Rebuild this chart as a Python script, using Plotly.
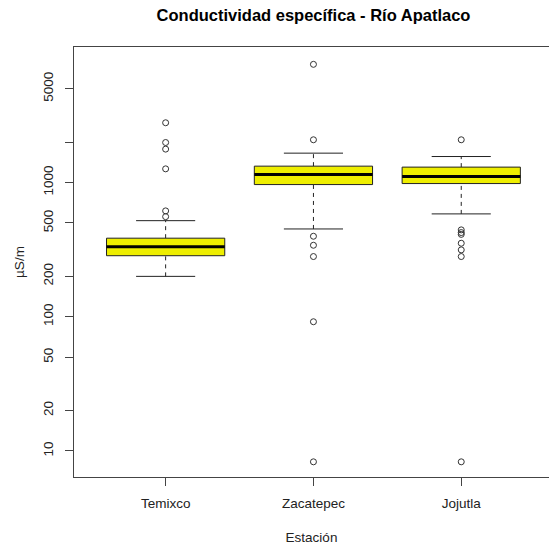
import plotly.graph_objects as go

# Specific conductance per station (µS/m), box-plot statistics
stations = ["Temixco", "Zacatepec", "Jojutla"]
lower_whisker = [200, 451, 584]
q1 = [285, 966, 983]
median = [333, 1148, 1109]
q3 = [385, 1325, 1303]
upper_whisker = [520, 1656, 1563]
outliers = [
    [557, 615, 1265, 1775, 1988, 2790],
    [8.3, 91.8, 281, 341, 398, 2083, 7600],
    [8.3, 281, 315, 353, 411, 424, 444, 2083],
]

y_ticks = [10, 20, 50, 100, 200, 500, 1000, 2000, 5000]
y_tick_text = ["10", "20", "50", "100", "200", "500", "1000", "", "5000"]

BOX_HALF = 0.4
CAP_HALF = 0.2
FILL = "#EEEE00"
EDGE = "#222222"
FONT = "Liberation Sans, Arial, sans-serif"
TEXT = dict(family=FONT, size=13.5, color="#222222")

fig = go.Figure()

for i, name in enumerate(stations):
    c = i + 1
    # dashed whiskers
    for lo, hi in ((q3[i], upper_whisker[i]), (lower_whisker[i], q1[i])):
        fig.add_trace(go.Scatter(
            x=[c, c], y=[lo, hi], mode="lines",
            line=dict(color=EDGE, width=1, dash="4px,4px"),
            hoverinfo="skip", showlegend=False))
    # whisker caps
    for v in (upper_whisker[i], lower_whisker[i]):
        fig.add_trace(go.Scatter(
            x=[c - CAP_HALF, c + CAP_HALF], y=[v, v], mode="lines",
            line=dict(color=EDGE, width=1),
            hoverinfo="skip", showlegend=False))
    # box
    fig.add_trace(go.Scatter(
        x=[c - BOX_HALF, c + BOX_HALF, c + BOX_HALF, c - BOX_HALF, c - BOX_HALF],
        y=[q1[i], q1[i], q3[i], q3[i], q1[i]],
        mode="lines", fill="toself", fillcolor=FILL,
        line=dict(color=EDGE, width=1),
        name=name, showlegend=False))
    # median
    fig.add_trace(go.Scatter(
        x=[c - BOX_HALF, c + BOX_HALF], y=[median[i], median[i]], mode="lines",
        line=dict(color="black", width=3),
        hoverinfo="skip", showlegend=False))
    # outliers
    fig.add_trace(go.Scatter(
        x=[c] * len(outliers[i]), y=outliers[i], mode="markers",
        marker=dict(symbol="circle-open", size=6, color="#333333",
                    line=dict(width=1)),
        showlegend=False))

fig.update_layout(
    width=549, height=550,
    margin=dict(l=74, r=0, t=47, b=73),
    paper_bgcolor="white", plot_bgcolor="white",
    font=TEXT,
    title=dict(text="<b>Conductividad específica - Río Apatlaco</b>",
               font=dict(family=FONT, size=16.5, color="black"),
               x=313.5 / 549, xref="container", xanchor="center",
               y=1 - 15 / 550, yref="container", yanchor="middle"),
)

fig.update_xaxes(
    range=[0.38, 0.38 + 475 / 147.8],
    tickvals=[1, 2, 3], ticktext=stations, tickfont=TEXT,
    ticks="outside", ticklen=8, tickcolor="#444444", ticklabelstandoff=6,
    showline=True, linecolor="#444444", linewidth=1, mirror=True,
    showgrid=False, zeroline=False,
    title=dict(text="Estación", font=TEXT, standoff=22),
)
fig.update_yaxes(
    type="log", range=[0.806, 4.010],
    tickvals=y_ticks, ticktext=y_tick_text, tickangle=-90, tickfont=TEXT,
    ticks="outside", ticklen=8, tickcolor="#444444", ticklabelstandoff=7,
    showline=True, linecolor="#444444", linewidth=1,
    showgrid=False, zeroline=False,
    title=dict(text="µS/m", font=TEXT, standoff=12),
)

fig.write_html("out.html")
